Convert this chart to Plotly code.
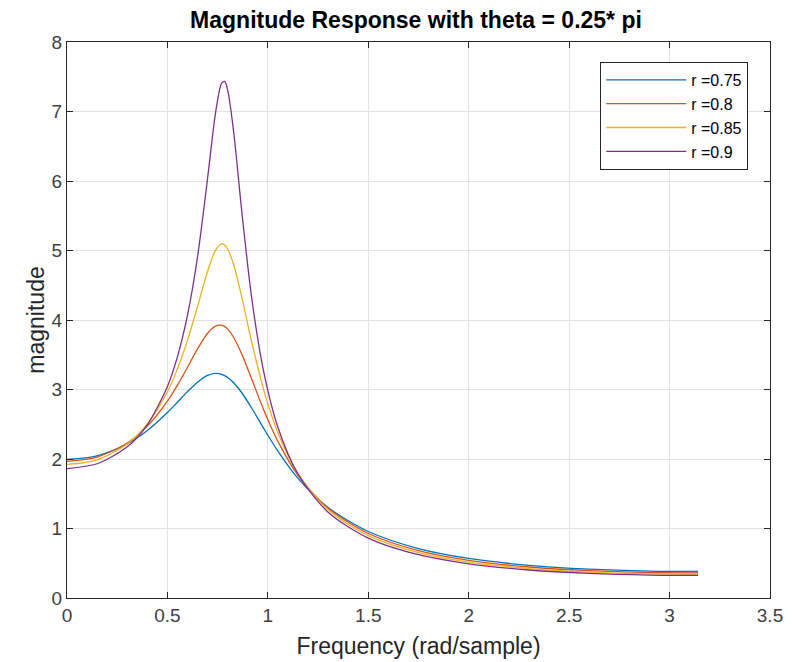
import plotly.graph_objects as go

freq = [0, 0.15, 0.3, 0.4, 0.5, 0.55, 0.6, 0.65, 0.7, 0.74, 0.77, 0.785, 0.8, 0.83,
        0.87, 0.92, 0.98, 1.05, 1.15, 1.3, 1.5, 1.75, 2.0, 2.3, 2.6, 2.9, 3.1416]

mag_r075 = [1.9927, 2.0463, 2.2174, 2.4093, 2.6685, 2.8176, 2.9691, 3.1059, 3.2027, 3.2325,
            3.2193, 3.2000, 3.1737, 3.0971, 2.9533, 2.7300, 2.4380, 2.1119, 1.7204, 1.3011,
            0.9564, 0.7109, 0.5693, 0.4702, 0.4149, 0.3876, 0.3812]
mag_r080 = [1.9661, 2.0277, 2.2312, 2.4737, 2.8333, 3.0631, 3.3207, 3.5850, 3.8099, 3.9139,
            3.9247, 3.9043, 3.8681, 3.7488, 3.5098, 3.1459, 2.7030, 2.2533, 1.7653, 1.2909,
            0.9285, 0.6816, 0.5426, 0.4464, 0.3932, 0.3670, 0.3608]
mag_r085 = [1.9215, 1.9889, 2.2172, 2.5042, 2.9680, 3.2967, 3.7071, 4.1956, 4.7006, 5.0063,
            5.0961, 5.0797, 5.0223, 4.7955, 4.3293, 3.6788, 2.9881, 2.3772, 1.7886, 1.2689,
            0.8967, 0.6521, 0.5167, 0.4239, 0.3729, 0.3478, 0.3419]
mag_r090 = [1.8615, 1.9317, 2.1748, 2.4925, 3.0440, 3.4729, 4.0695, 4.9101, 6.0397, 6.9875,
            7.4095, 7.4330, 7.3067, 6.7014, 5.5679, 4.3059, 3.2459, 2.4568, 1.7829, 1.2352,
            0.8618, 0.6225, 0.4918, 0.4028, 0.3539, 0.3300, 0.3244]

series_names = ["r =0.75", "r =0.8", "r =0.85", "r =0.9"]
series_vals = [mag_r075, mag_r080, mag_r085, mag_r090]
colors = ["#0072BD", "#D95319", "#EDB120", "#7E2F8E"]

x_ticks = [0, 0.5, 1, 1.5, 2, 2.5, 3, 3.5]
y_ticks = [0, 1, 2, 3, 4, 5, 6, 7, 8]

FONT = "Liberation Sans, Arial, Helvetica"

fig = go.Figure()
for name, vals, col in zip(series_names, series_vals, colors):
    fig.add_trace(go.Scatter(x=freq, y=vals, mode="lines", name=name,
                             line=dict(color=col, width=1.3, shape="spline", smoothing=0.8)))

axis_common = dict(showgrid=True, gridcolor="#e3e3e3", gridwidth=1,
                   showline=True, linecolor="#262626", linewidth=1, mirror="ticks",
                   ticks="inside", ticklen=6, tickcolor="#262626",
                   tickfont=dict(family=FONT, size=19, color="#404040"),
                   zeroline=False, automargin=False)

fig.update_layout(
    width=800, height=662,
    margin=dict(l=59, r=38, t=34, b=72),
    paper_bgcolor="white", plot_bgcolor="white",
    title=dict(text="<b>Magnitude Response with theta = 0.25* pi</b>",
               x=0.51, xanchor="center", y=0.994, yref="container", yanchor="top",
               font=dict(family=FONT, size=23, color="#000000")),
    xaxis=dict(range=[0, 3.5], tickvals=x_ticks, ticktext=[str(v) for v in x_ticks],
               title=dict(text="Frequency (rad/sample)", standoff=13,
                          font=dict(family=FONT, size=23, color="#262626")),
               **axis_common),
    yaxis=dict(range=[0, 8], tickvals=y_ticks,
               title=dict(text="magnitude", standoff=0,
                          font=dict(family=FONT, size=23, color="#262626")),
               **axis_common),
    legend=dict(x=0.969, xanchor="right", y=0.964, yanchor="top",
                bordercolor="#262626", borderwidth=1, bgcolor="white",
                font=dict(family=FONT, size=16, color="#000000"),
                itemwidth=80, tracegroupgap=0),
    showlegend=True,
)

fig.write_html("out.html")
